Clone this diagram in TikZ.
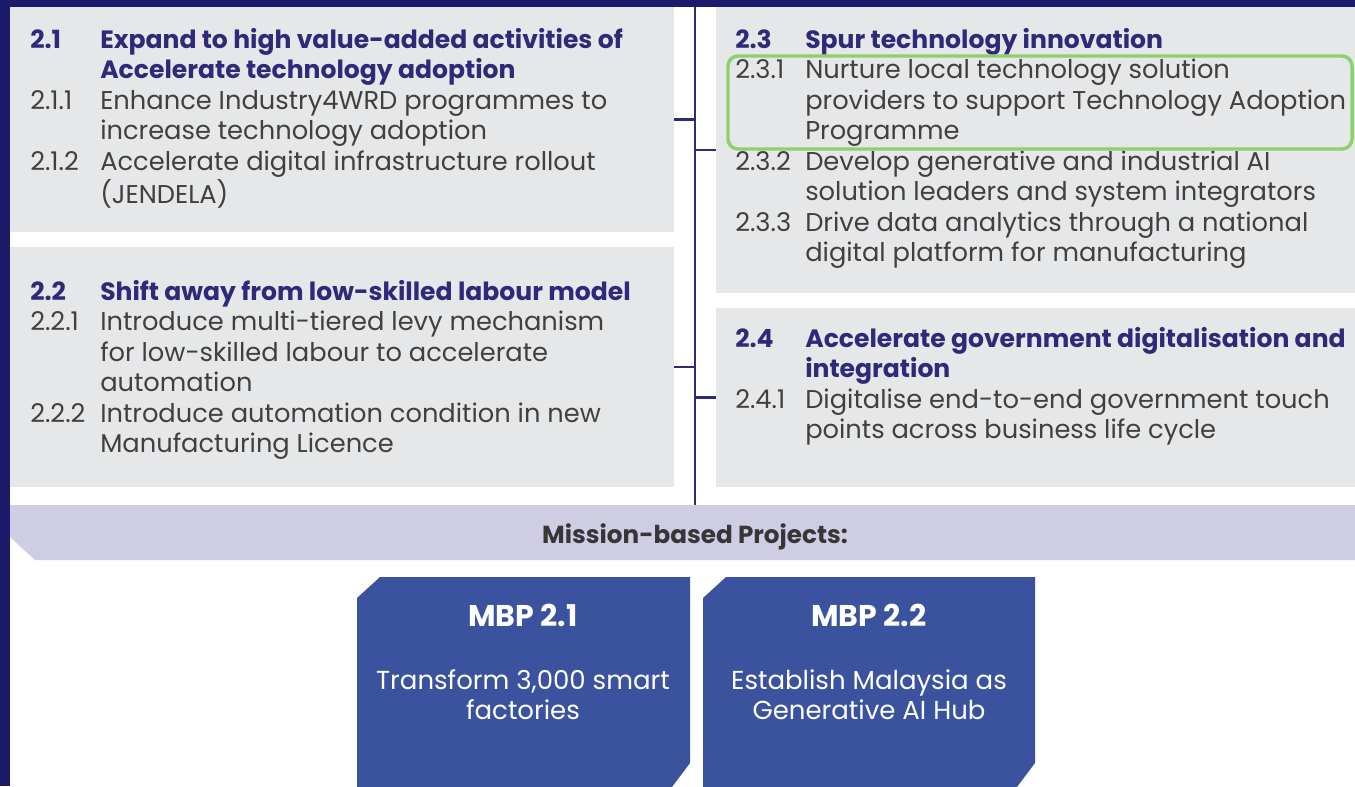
\documentclass[tikz,border=0pt]{standalone}
\usepackage{fontspec}
\setmainfont{Poppins}
\usetikzlibrary{positioning,fit}

\definecolor{navybg}{HTML}{1B1A6B}
\definecolor{boxgray}{HTML}{E6E7E9}
\definecolor{headblue}{HTML}{2E2A7A}
\definecolor{bodygray}{HTML}{404040}
\definecolor{bandlav}{HTML}{CFCDE3}
\definecolor{mbpblue}{HTML}{3B529F}
\definecolor{hiligreen}{HTML}{8DD16B}

% heading row and item rows of a panel
\newcommand{\headfont}{\bfseries\fontsize{18.8}{22.9}\selectfont\color{headblue}}
\newcommand{\hrow}[2]{\leavevmode{\headfont#1} & {\headfont#2}\\}
\newcommand{\irow}[2]{\leavevmode#1 & #2\\}

\begin{document}
\begin{tikzpicture}[x=0.75pt,y=-0.75pt,
	panel/.style={fill=boxgray, inner sep=0pt, draw=none},
	paneltext/.style={anchor=base west, inner sep=0pt, text=bodygray, font=\fontsize{19.3}{22.9}\selectfont},
	link/.style={draw=headblue, line width=1.6pt},
	mbphead/.style={text=white, font=\bfseries\fontsize{22.5}{24}\selectfont, inner sep=0pt},
	mbptext/.style={text=white, align=center, font=\fontsize{19.5}{22.5}\selectfont, inner sep=0pt},
	]
	\useasboundingbox (0,0) rectangle (1355,786);
	\fill[navybg] (0,0) rectangle (1355,786);
	\fill[white] (10,7) rectangle (1355,786);

	% the four panels
	\node[panel, fit={(10,7) (674,232)}] (box21) {};
	\node[panel, fit={(10,247) (674,487)}] (box22) {};
	\node[panel, fit={(716,7) (1355,293)}] (box23) {};
	\node[panel, fit={(716,308) (1355,487)}] (box24) {};

	% trunk and ticks
	\coordinate (trunktop) at (695,7);
	\coordinate (trunkbot) at (695,505);
	\draw[link] (trunktop) -- (trunkbot);
	\draw[link] (box21.east) -- (box21.east -| trunktop);
	\draw[link] (box22.east) -- (box22.east -| trunktop);
	\draw[link] (box23.west) -- (box23.west -| trunktop);
	\draw[link] (box24.west) -- (box24.west -| trunktop);

	% panel texts
	\node[paneltext] (t21) at (30,48) {\begin{tabular}[t]{@{}p{52.5pt}@{}l@{}}
		\hrow{2.1}{Expand to high value-added activities of}
		\hrow{}{Accelerate technology adoption}
		\irow{2.1.1}{Enhance Industry4WRD programmes to}
		\irow{}{increase technology adoption}
		\irow{2.1.2}{Accelerate digital infrastructure rollout}
		\irow{}{(JENDELA)}
	\end{tabular}};
	\node[paneltext] (t22) at (30,300) {\begin{tabular}[t]{@{}p{52.5pt}@{}l@{}}
		\hrow{2.2}{Shift away from low-skilled labour model}
		\irow{2.2.1}{Introduce multi-tiered levy mechanism}
		\irow{}{for low-skilled labour to accelerate}
		\irow{}{automation}
		\irow{2.2.2}{Introduce automation condition in new}
		\irow{}{Manufacturing Licence}
	\end{tabular}};
	\node[paneltext] (t23) at (735,48) {\begin{tabular}[t]{@{}p{52.5pt}@{}l@{}}
		\hrow{2.3}{Spur technology innovation}
		\irow{2.3.1}{Nurture local technology solution}
		\irow{}{providers to support Technology Adoption}
		\irow{}{Programme}
		\irow{2.3.2}{Develop generative and industrial AI}
		\irow{}{solution leaders and system integrators}
		\irow{2.3.3}{Drive data analytics through a national}
		\irow{}{digital platform for manufacturing}
	\end{tabular}};
	\node[paneltext] (t24) at (735,347) {\begin{tabular}[t]{@{}p{52.5pt}@{}l@{}}
		\hrow{2.4}{Accelerate government digitalisation and}
		\hrow{}{integration}
		\irow{2.4.1}{Digitalise end-to-end government touch}
		\irow{}{points across business life cycle}
	\end{tabular}};

	% highlight round 2.3.1
	\draw[hiligreen, line width=2.6pt, rounded corners=7.5pt] (728,56) rectangle (1352,149);

	% mission band
	\fill[bandlav] (10,505) -- (1355,505) -- (1355,560) -- (35,560) -- (10,537) -- cycle;
	\node[text=bodygray!85!black, font=\bfseries\fontsize{18.5}{20}\selectfont, inner sep=0pt] (band) at (695,537) {Mission-based Projects:};

	% mission-based project boxes
	\fill[mbpblue] (357,598) -- (380,577) -- (690,577) -- (690,763) -- (660,803) -- (357,803) -- cycle;
	\fill[mbpblue] (703,598) -- (726,577) -- (1035,577) -- (1035,763) -- (1005,803) -- (703,803) -- cycle;
	\node[mbphead] (mbp1) at (523,615) {MBP 2.1};
	\node[mbptext] (mbp1txt) at (523,695) {Transform 3,000 smart\\factories};
	\node[mbphead] (mbp2) at (869,615) {MBP 2.2};
	\node[mbptext] (mbp2txt) at (869,695) {Establish Malaysia as\\Generative AI Hub};
\end{tikzpicture}
\end{document}
